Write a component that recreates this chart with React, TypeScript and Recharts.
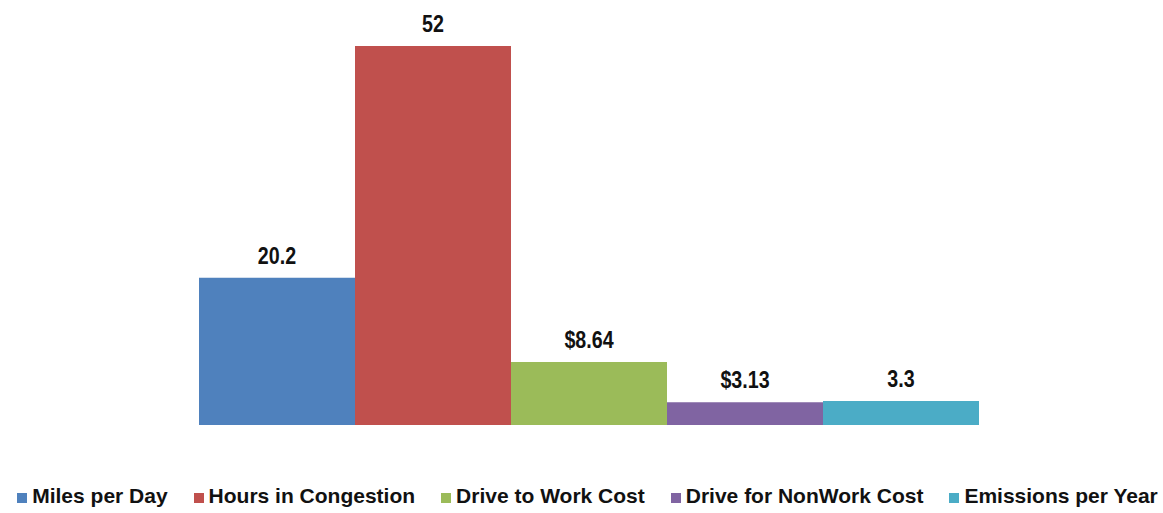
import React from "react";
import { BarChart, Bar, XAxis, YAxis, Legend, LabelList } from "recharts";

const seriesNames = [
  "Miles per Day",
  "Hours in Congestion",
  "Drive to Work Cost",
  "Drive for NonWork Cost",
  "Emissions per Year",
];
const seriesKeys = ["miles", "hours", "workCost", "nonWorkCost", "emissions"];
const seriesValues = [20.2, 52, 8.64, 3.13, 3.3];
const seriesLabels = ["20.2", "52", "$8.64", "$3.13", "3.3"];
const seriesColors = ["#4F81BD", "#C0504D", "#9BBB59", "#8064A2", "#4BACC6"];

const data = [
  seriesKeys.reduce(
    (row: Record<string, number | string>, k, i) => {
      row[k] = seriesValues[i];
      return row;
    },
    { name: "All" } as Record<string, number | string>
  ),
];

const labelFont = "'Liberation Sans', Arial, sans-serif";
const legendFont = "'Liberation Sans', Arial, sans-serif";

const makeLabel = (text: string) => (props: any) => {
  const { x, y, width } = props;
  const cx = Number(x) + Number(width) / 2;
  const cy = Number(y) - 14;
  return (
    <text
      transform={`translate(${cx},${cy}) scale(0.82,1)`}
      x={0}
      y={0}
      textAnchor="middle"
      fontFamily={labelFont}
      fontWeight="bold"
      fontSize={24}
      fill="#111"
    >
      {text}
    </text>
  );
};

const LegendContent = () => (
  <div
    style={{
      display: "flex",
      justifyContent: "center",
      alignItems: "center",
      gap: 26,
      fontFamily: legendFont,
      fontWeight: "bold",
      fontSize: 21,
      color: "#111",
      paddingLeft: 12,
      whiteSpace: "nowrap",
    }}
  >
    {seriesNames.map((n, i) => (
      <div key={n} style={{ display: "flex", alignItems: "center" }}>
        <span
          style={{
            display: "inline-block",
            width: 10,
            height: 10,
            background: seriesColors[i],
            marginRight: 5,
            marginTop: 4,
          }}
        />
        <span>{n}</span>
      </div>
    ))}
  </div>
);

export default function App() {
  return (
    <div style={{ position: "absolute", left: 0, top: 0, width: 1163, height: 513, background: "#fff" }}>
      <BarChart
        width={1163}
        height={513}
        data={data}
        margin={{ top: 46, right: 183, bottom: 88, left: 199 }}
        barGap={0}
        barCategoryGap={0}
      >
        <XAxis dataKey="name" hide />
        <YAxis hide domain={[0, 52]} />
        <Legend
          verticalAlign="middle"
          align="center"
          layout="horizontal"
          content={<LegendContent />}
          wrapperStyle={{ top: 484, left: 0, width: 1163 }}
        />
        {seriesKeys.map((k, i) => (
          <Bar
            key={k}
            dataKey={k}
            name={seriesNames[i]}
            fill={seriesColors[i]}
            isAnimationActive={false}
          >
            <LabelList dataKey={k} content={makeLabel(seriesLabels[i])} />
          </Bar>
        ))}
      </BarChart>
    </div>
  );
}
